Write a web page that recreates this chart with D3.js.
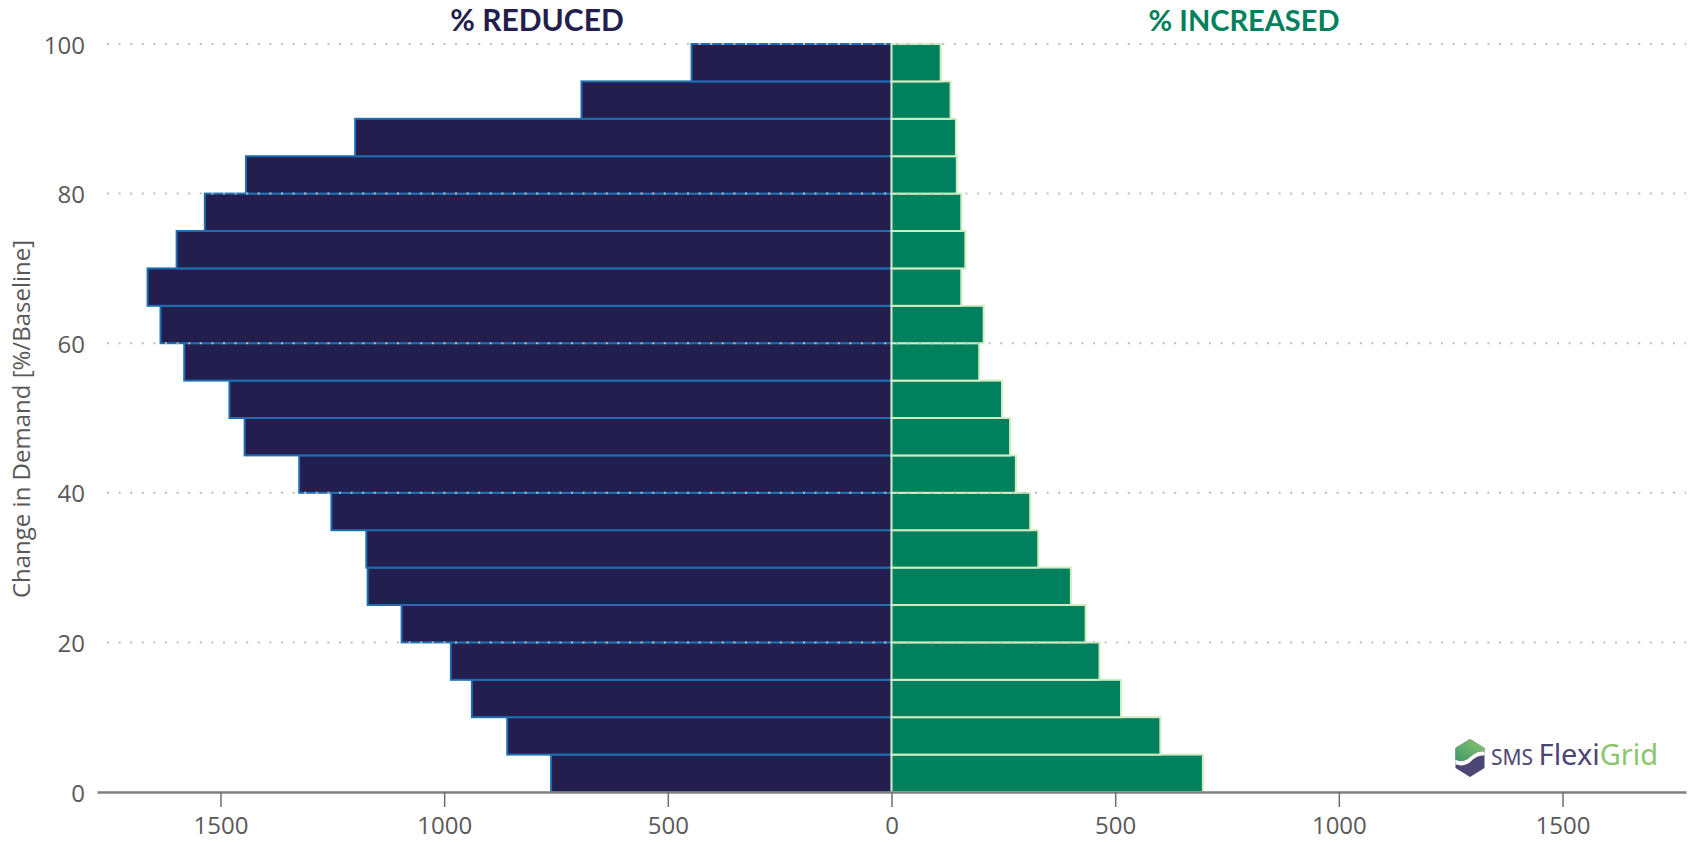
<!DOCTYPE html>
<html>
<head>
<meta charset="utf-8">
<script src="https://cdn.jsdelivr.net/npm/d3@7"></script>
<style>
  html, body { margin: 0; padding: 0; background: #ffffff; }
  svg { display: block; }
</style>
</head>
<body>
<svg id="chart" width="1690" height="842"></svg>
<script>
// Demand-change bins (lower edge, % of baseline), 5-point wide
const bins = [0, 5, 10, 15, 20, 25, 30, 35, 40, 45, 50, 55, 60, 65, 70, 75, 80, 85, 90, 95];
const binWidth = 5;
// Count of cases in each bin where demand was reduced
const reduced = [761, 859, 938, 985, 1095, 1171, 1174, 1252, 1324, 1446, 1480, 1581, 1634, 1663, 1598, 1535, 1443, 1199, 693, 447];
// Count of cases in each bin where demand was increased
const increased = [696, 601, 513, 465, 434, 401, 328, 310, 278, 265, 247, 196, 206, 156, 165, 156, 146, 144, 132, 110];

const xTicks = [-1500, -1000, -500, 0, 500, 1000, 1500];
const yTicks = [0, 20, 40, 60, 80, 100];
const titleLeft = "% REDUCED";
const titleRight = "% INCREASED";
const yTitle = "Change in Demand [%/Baseline]";

const svg = d3.select("#chart");

const x = d3.scaleLinear().domain([-1776, 1776]).range([97, 1686]);
const y = d3.scaleLinear().domain([0, 100]).range([792, 44]);

const font = "'Open Sans', 'DejaVu Sans', sans-serif";
const gray = "#595959";

// Reduced bars extend left of zero
svg.append("g").selectAll("rect")
  .data(bins.map((b, i) => ({ b, v: reduced[i] })))
  .join("rect")
  .attr("x", d => x(-d.v))
  .attr("width", d => x(0) - x(-d.v))
  .attr("y", d => y(d.b + binWidth))
  .attr("height", d => y(d.b) - y(d.b + binWidth))
  .attr("fill", "#231e4d")
  .attr("stroke", "#1d6fb1")
  .attr("stroke-width", 2);

// Increased bars extend right of zero
svg.append("g").selectAll("rect")
  .data(bins.map((b, i) => ({ b, v: increased[i] })))
  .join("rect")
  .attr("x", x(0))
  .attr("width", d => x(d.v) - x(0))
  .attr("y", d => y(d.b + binWidth))
  .attr("height", d => y(d.b) - y(d.b + binWidth))
  .attr("fill", "#00805c")
  .attr("stroke", "#d3ebc3")
  .attr("stroke-width", 2);

// Dotted horizontal gridlines
svg.append("g").selectAll("line")
  .data(yTicks.filter(t => t > 0))
  .join("line")
  .attr("x1", 107).attr("x2", 1686)
  .attr("y1", d => y(d)).attr("y2", d => y(d))
  .attr("stroke", "#bdbdbd")
  .attr("stroke-width", 2)
  .attr("stroke-dasharray", "2 9.6");

// Y tick labels
svg.append("g").selectAll("text")
  .data(yTicks)
  .join("text")
  .attr("x", 85)
  .attr("y", d => y(d))
  .attr("text-anchor", "end")
  .attr("dominant-baseline", "central")
  .attr("font-family", font)
  .attr("font-size", 24)
  .attr("fill", gray)
  .text(d => d);

// X axis (absolute values either side of zero)
const xAxis = d3.axisBottom(x)
  .tickValues(xTicks)
  .tickFormat(d => Math.abs(d))
  .tickSize(15)
  .tickSizeOuter(0)
  .tickPadding(10);
const gx = svg.append("g").attr("transform", `translate(0,${y(0)})`).call(xAxis);
gx.select(".domain").attr("stroke", "#808080").attr("stroke-width", 2.5);
gx.selectAll(".tick line").attr("stroke", "#6e6e6e").attr("stroke-width", 1.5);
gx.selectAll(".tick text")
  .attr("font-family", font)
  .attr("font-size", 24)
  .attr("fill", gray);

// Y axis title
svg.append("text")
  .attr("transform", `translate(20,419) rotate(-90)`)
  .attr("text-anchor", "middle")
  .attr("dominant-baseline", "central")
  .attr("font-family", font)
  .attr("font-size", 24)
  .attr("fill", gray)
  .text(yTitle);

// Side titles
const titleFont = "Lato, 'Open Sans', sans-serif";
svg.append("text")
  .attr("x", 537).attr("y", 31)
  .attr("text-anchor", "middle")
  .attr("font-family", titleFont)
  .attr("font-weight", 700)
  .attr("font-size", 30)
  .attr("fill", "#231e4d")
  .text(titleLeft);
svg.append("text")
  .attr("x", 1244).attr("y", 31)
  .attr("text-anchor", "middle")
  .attr("font-family", titleFont)
  .attr("font-weight", 700)
  .attr("font-size", 29)
  .attr("fill", "#00805c")
  .text(titleRight);

// Brand mark, lower right
const logo = svg.append("g").attr("transform", "translate(1470,758)");
const defs = svg.append("defs");
const grad = defs.append("linearGradient").attr("id", "hexTop")
  .attr("x1", 0).attr("y1", 1).attr("x2", 1).attr("y2", 0);
grad.append("stop").attr("offset", "0%").attr("stop-color", "#3a9868");
grad.append("stop").attr("offset", "100%").attr("stop-color", "#93c973");
const hex = "M0,-19 L14.5,-10 L14.5,10 L0,19 L-14.5,10 L-14.5,-10 Z";
defs.append("clipPath").attr("id", "hexClip").append("path").attr("d", hex);
const hg = logo.append("g").attr("clip-path", "url(#hexClip)");
hg.append("rect").attr("x", -16).attr("y", -20).attr("width", 32).attr("height", 40).attr("fill", "#4b4673");
hg.append("path")
  .attr("d", "M-16,-20 L16,-20 L16,-6 C8,-8 4,-4 -1,0 C-6,4 -10,4 -16,1 Z")
  .attr("fill", "url(#hexTop)");
hg.append("path")
  .attr("d", "M-16,1 C-10,4 -6,4 -1,0 C4,-4 8,-8 16,-6 L16,-2 C8,-4 4,1 -1,5 C-6,8 -10,8 -16,6 Z")
  .attr("fill", "#ffffff");
const lt = logo.append("text")
  .attr("x", 21).attr("y", 7)
  .attr("font-family", "'Noto Sans', 'Open Sans', sans-serif");
lt.append("tspan").attr("font-size", 21).attr("fill", "#4b4673").text("SMS ");
lt.append("tspan").attr("font-size", 29).attr("fill", "#4b4673").text("Flexi");
lt.append("tspan").attr("font-size", 29).attr("fill", "#8cc66c").text("Grid");
</script>
</body>
</html>
